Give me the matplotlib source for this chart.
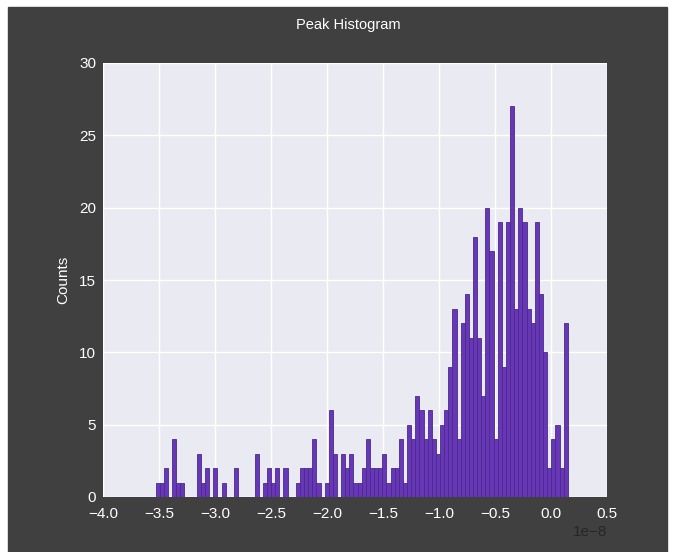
import numpy as np
import matplotlib
matplotlib.use("Agg")
import matplotlib.pyplot as plt
from matplotlib.patches import Rectangle

# ============================================================
# DATA  (counts per bin; x in units of 1e-8)
# ============================================================
x_min = -3.53e-8
x_max = 0.15e-8
counts = [
    1, 1, 2, 0, 4, 1, 1, 0, 0, 0,
    3, 1, 2, 0, 2, 0, 1, 0, 0, 2,
    0, 0, 0, 0, 3, 0, 1, 2, 1, 2,
    0, 2, 0, 0, 1, 2, 2, 2, 4, 1,
    0, 1, 6, 3, 0, 3, 2, 3, 1, 1,
    2, 4, 2, 2, 2, 3, 1, 2, 2, 4,
    1, 5, 4, 7, 6, 4, 6, 4, 3, 5,
    6, 9, 13, 4, 12, 14, 11, 18, 11, 7,
    20, 17, 4, 19, 9, 19, 27, 13, 20, 19,
    13, 12, 19, 14, 10, 2, 4, 5, 2, 12,
]
x_ticks = [-4.0e-8, -3.5e-8, -3.0e-8, -2.5e-8, -2.0e-8, -1.5e-8,
           -1.0e-8, -0.5e-8, 0.0, 0.5e-8]
y_ticks = [0, 5, 10, 15, 20, 25, 30]

plt.rcParams["font.family"] = ["Liberation Sans", "DejaVu Sans"]

fig = plt.figure(figsize=(6.73, 5.52), dpi=100, facecolor="white")
# dark panel (screenshot has a thin white border top / left / right)
fig.patches.append(Rectangle((8 / 673, 0), 659 / 673, 545 / 552,
                             transform=fig.transFigure, color="#404040",
                             zorder=-10))

ax = fig.add_axes([103 / 673, 1 - 497 / 552, 504 / 673, 434 / 552])
ax.set_facecolor("#EAEAF2")
for s in ax.spines.values():
    s.set_visible(False)
ax.grid(True, color="white", linewidth=1.0)
ax.set_axisbelow(True)

edges = np.linspace(x_min, x_max, len(counts) + 1)
ax.hist(edges[:-1], bins=edges, weights=counts,
        facecolor="#6737b8", edgecolor="#4a2a8a", linewidth=0.6)

ax.set_xlim(-4.0e-8, 0.5e-8)
ax.set_ylim(0, 30)
ax.set_xticks(x_ticks)
ax.set_yticks(y_ticks)
ax.tick_params(axis="both", length=0, labelsize=11, labelcolor="white")
ax.tick_params(axis="x", pad=7)
ax.tick_params(axis="y", pad=5)
ax.xaxis.get_offset_text().set_color("#262626")
ax.xaxis.get_offset_text().set_fontsize(11)

ax.set_ylabel("Counts", color="white", fontsize=11, labelpad=6)
fig.text(0.518, 1 - 25 / 552, "Peak Histogram", color="white",
         fontsize=10.5, ha="center", va="center")

fig.savefig("out.png", dpi=100, facecolor=fig.get_facecolor())
